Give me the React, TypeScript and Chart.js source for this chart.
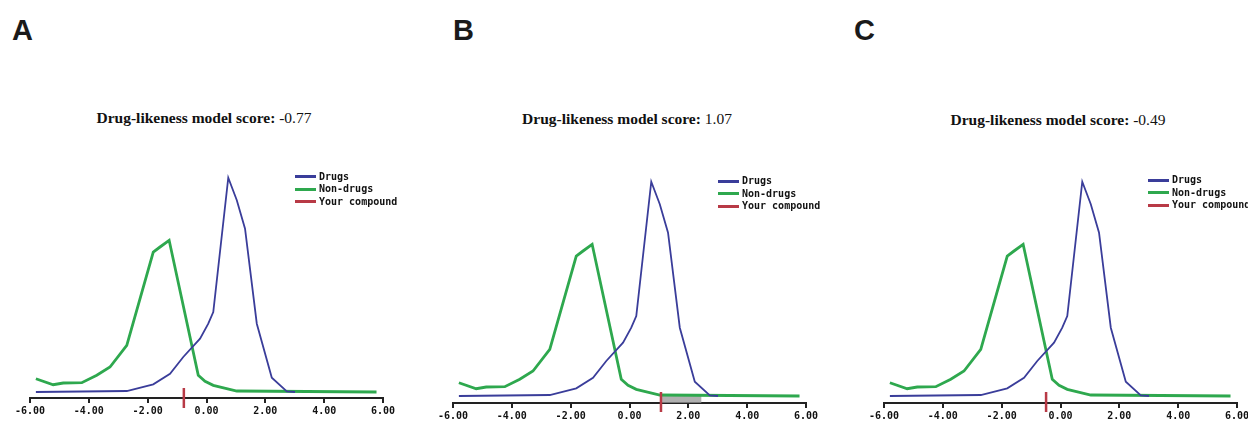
import React, { useEffect, useRef } from "react";
import { Chart, registerables } from "chart.js";

Chart.register(...registerables);

// ---- data ----
const panelLetters = ["A", "B", "C"];
const scores = [-0.77, 1.07, -0.49];
const xTicks = [-6, -4, -2, 0, 2, 4, 6];

const drugsX = [-5.8, -2.71, -1.81, -1.24, -0.79, -0.22, 0.06, 0.23, 0.74, 1.03, 1.31, 1.71, 2.22, 2.73, 3.01];
const drugsY = [0, 1, 7.7, 18.3, 35, 53.3, 68.3, 80, 214.3, 191.7, 163.3, 68.3, 14.3, 0.7, 0];

const nonDrugsX = [-5.8, -5.21, -4.87, -4.24, -3.73, -3.28, -2.71, -1.81, -1.58, -1.27, -0.28, -0.05, 0.23, 1.03, 5.78];
const nonDrugsY = [13.3, 7.3, 9, 9.3, 16.7, 25, 46.7, 140, 145, 151.7, 16.7, 10.7, 6.7, 1, 0];

const markerY = [4, -16];
const shadedRanges: (number[] | null)[] = [null, [1.07, 2.45], null];
const legendLabels = ["Drugs", "Non-drugs", "Your compound"];

// ---- styles / layout ----
const BLUE = "#3a3d9a";
const GREEN = "#2ea84e";
const RED = "#b83a46";
const legendColors = [BLUE, GREEN, RED];
const Y_MAX = 230;
const AREA_W = 353;
const CANVAS_TOP = 140;
const AXIS_H = 30;

const layouts = [
  { left: 0, axisY: 398, yMin: -6, titleX: 204, titleY: 118, letterX: 12, legendX: 295, legendY: 176.7 },
  { left: 423, axisY: 403, yMin: -7, titleX: 627, titleY: 119, letterX: 453, legendX: 718, legendY: 181 },
  { left: 854, axisY: 403, yMin: -7, titleX: 1058, titleY: 120, letterX: 854, legendX: 1148, legendY: 180 },
];

function Panel({ idx }: { idx: number }) {
  const ref = useRef<HTMLCanvasElement>(null);
  const L = layouts[idx];
  const W = AREA_W + 60;
  const H = L.axisY - CANVAS_TOP + AXIS_H;

  useEffect(() => {
    if (!ref.current) return;
    const datasets: any[] = [
      {
        label: "Your compound",
        data: markerY.map((y) => ({ x: scores[idx], y })),
        borderColor: RED,
        borderWidth: 2.5,
        pointRadius: 0,
        clip: false,
      },
      {
        label: "Drugs",
        data: drugsX.map((x, i) => ({ x, y: drugsY[i] })),
        borderColor: BLUE,
        borderWidth: 1.8,
        pointRadius: 0,
        tension: 0,
      },
      {
        label: "Non-drugs",
        data: nonDrugsX.map((x, i) => ({ x, y: nonDrugsY[i] })),
        borderColor: GREEN,
        borderWidth: 2.8,
        pointRadius: 0,
        tension: 0,
      },
    ];
    const shade = shadedRanges[idx];
    if (shade) {
      datasets.push({
        label: "shade",
        data: shade.map((x) => ({ x, y: 0 })),
        borderWidth: 0,
        borderColor: "rgba(0,0,0,0)",
        backgroundColor: "rgba(150,150,150,0.75)",
        fill: "start",
        pointRadius: 0,
      });
    }
    const chart = new Chart(ref.current, {
      type: "line",
      data: { datasets },
      options: {
        animation: false,
        responsive: false,
        devicePixelRatio: 1,
        layout: {
          padding: {
            left: 30,
            right: 30,
            top: L.axisY - CANVAS_TOP - (Y_MAX - L.yMin),
            bottom: 0,
          },
        },
        plugins: {
          legend: { display: false },
          tooltip: { enabled: false },
          title: { display: false },
        },
        scales: {
          x: {
            type: "linear",
            min: -6,
            max: 6,
            afterFit: (s: any) => {
              s.height = AXIS_H;
            },
            afterBuildTicks: (s: any) => {
              s.ticks = xTicks.map((v) => ({ value: v }));
            },
            ticks: {
              callback: (v: any) => Number(v).toFixed(2),
              font: { family: "'DejaVu Sans Mono', monospace", size: 10, weight: "bold" },
              color: "#111",
              padding: 2,
              maxRotation: 0,
              autoSkip: false,
            },
            grid: {
              drawOnChartArea: false,
              drawTicks: true,
              tickLength: 5,
              color: "#222",
              lineWidth: 2,
            },
            border: { display: true, color: "#222", width: 2 },
          },
          y: { display: false, min: L.yMin, max: Y_MAX },
        },
      },
    });
    return () => chart.destroy();
  }, [idx]);

  return (
    <>
      <canvas
        ref={ref}
        width={W}
        height={H}
        style={{ position: "absolute", left: L.left, top: CANVAS_TOP, width: W, height: H }}
      />
      <div
        style={{
          position: "absolute",
          left: L.letterX,
          top: 15.5,
          fontFamily: "'Liberation Sans', Arial, sans-serif",
          fontWeight: "bold",
          fontSize: 29,
          lineHeight: "29px",
          color: "#1a1a1a",
        }}
      >
        {panelLetters[idx]}
      </div>
      <div
        style={{
          position: "absolute",
          left: L.titleX,
          top: L.titleY,
          transform: "translate(-50%, -50%)",
          whiteSpace: "nowrap",
          fontFamily: "'Liberation Serif', 'Times New Roman', serif",
          fontSize: 15.5,
          lineHeight: 1,
          color: "#111",
        }}
      >
        <span style={{ fontWeight: "bold" }}>Drug-likeness model score:</span> {scores[idx].toFixed(2)}
      </div>
      {legendLabels.map((lab, i) => (
        <React.Fragment key={lab}>
          <div
            style={{
              position: "absolute",
              left: L.legendX,
              top: L.legendY + i * 12.5 - 1.5,
              width: 21,
              height: 3,
              background: legendColors[i],
            }}
          />
          <div
            style={{
              position: "absolute",
              left: L.legendX + 24,
              top: L.legendY + i * 12.5,
              transform: "translateY(-50%)",
              whiteSpace: "nowrap",
              fontFamily: "'DejaVu Sans Mono', monospace",
              fontWeight: "bold",
              fontSize: 10,
              lineHeight: 1,
              color: "#111",
            }}
          >
            {lab}
          </div>
        </React.Fragment>
      ))}
    </>
  );
}

export default function App() {
  return (
    <div
      style={{
        position: "absolute",
        left: 0,
        top: 0,
        width: 1248,
        height: 429,
        overflow: "hidden",
        background: "#fff",
      }}
    >
      {[0, 1, 2].map((i) => (
        <Panel key={i} idx={i} />
      ))}
    </div>
  );
}
